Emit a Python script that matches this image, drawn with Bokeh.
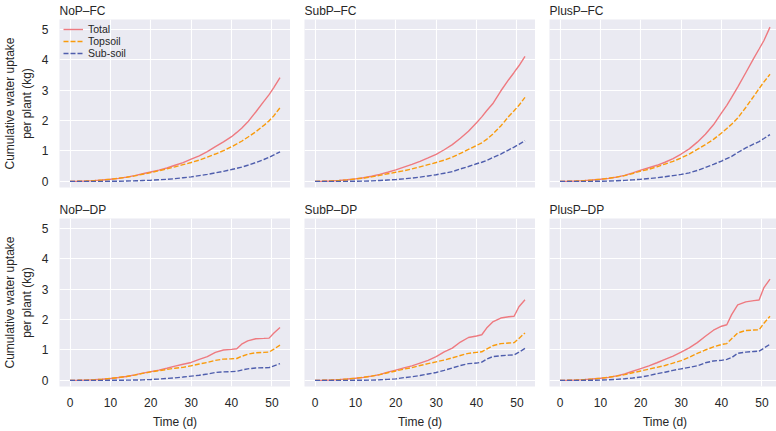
from bokeh.plotting import figure
from bokeh.layouts import gridplot
from bokeh.models import Range1d, FixedTicker, Legend, LegendItem
from bokeh.embed import file_html
from bokeh.resources import INLINE

# ---------------- data ----------------
days = [0, 2, 4, 6, 8, 10, 12, 14, 16, 18, 20, 22, 24, 26, 28, 30, 32, 34, 36, 38,
        40, 41.3, 42.5, 44, 46, 48, 49.3, 50.5, 52]

panel_names = ["NoP\u2013FC", "SubP\u2013FC", "PlusP\u2013FC",
               "NoP\u2013DP", "SubP\u2013DP", "PlusP\u2013DP"]

# NoP-FC
nop_fc_total = [0, 0.004, 0.012, 0.025, 0.045, 0.07, 0.10, 0.14, 0.19, 0.25, 0.31, 0.37, 0.44, 0.53, 0.62,
                0.73, 0.84, 0.98, 1.14, 1.30, 1.47, 1.61, 1.75, 1.95, 2.28, 2.63, 2.85, 3.09, 3.41]
nop_fc_top = [0, 0.004, 0.012, 0.025, 0.045, 0.07, 0.10, 0.135, 0.18, 0.235, 0.29, 0.35, 0.41, 0.48, 0.55,
              0.62, 0.70, 0.80, 0.90, 1.01, 1.14, 1.23, 1.32, 1.45, 1.63, 1.84, 1.99, 2.16, 2.42]
nop_fc_sub = [0, 0, 0, 0.001, 0.002, 0.004, 0.007, 0.012, 0.02, 0.03, 0.04, 0.055, 0.07, 0.09, 0.12,
              0.15, 0.19, 0.23, 0.28, 0.33, 0.39, 0.43, 0.47, 0.53, 0.62, 0.72, 0.79, 0.87, 0.97]

# SubP-FC
subp_fc_total = [0, 0.005, 0.015, 0.03, 0.055, 0.085, 0.12, 0.17, 0.23, 0.30, 0.38, 0.47, 0.56, 0.66, 0.77,
                 0.89, 1.04, 1.21, 1.42, 1.65, 1.93, 2.12, 2.32, 2.55, 2.97, 3.35, 3.58, 3.80, 4.11]
subp_fc_top = [0, 0.005, 0.015, 0.03, 0.05, 0.08, 0.11, 0.15, 0.20, 0.25, 0.30, 0.35, 0.41, 0.48, 0.55,
               0.62, 0.70, 0.80, 0.92, 1.05, 1.18, 1.27, 1.38, 1.55, 1.82, 2.14, 2.32, 2.50, 2.76]
subp_fc_sub = [0, 0, 0, 0.001, 0.003, 0.006, 0.01, 0.018, 0.03, 0.045, 0.06, 0.085, 0.11, 0.14, 0.18,
               0.22, 0.27, 0.32, 0.41, 0.49, 0.58, 0.63, 0.69, 0.78, 0.90, 1.04, 1.13, 1.22, 1.34]

# PlusP-FC
plusp_fc_total = [0, 0.004, 0.012, 0.025, 0.045, 0.07, 0.10, 0.14, 0.20, 0.28, 0.37, 0.45, 0.53, 0.63, 0.75,
                  0.90, 1.07, 1.29, 1.55, 1.86, 2.25, 2.50, 2.76, 3.10, 3.57, 4.05, 4.35, 4.63, 5.07]
plusp_fc_top = [0, 0.004, 0.012, 0.025, 0.045, 0.07, 0.10, 0.14, 0.19, 0.26, 0.34, 0.40, 0.48, 0.57, 0.66,
                0.77, 0.90, 1.05, 1.21, 1.38, 1.59, 1.74, 1.88, 2.08, 2.43, 2.80, 3.05, 3.27, 3.52]
plusp_fc_sub = [0, 0, 0, 0.001, 0.003, 0.006, 0.012, 0.02, 0.035, 0.05, 0.07, 0.095, 0.12, 0.155, 0.19,
                0.23, 0.28, 0.36, 0.46, 0.56, 0.67, 0.75, 0.82, 0.95, 1.10, 1.23, 1.31, 1.41, 1.54]

# NoP-DP
nop_dp_total = [0, 0.003, 0.01, 0.02, 0.04, 0.065, 0.095, 0.13, 0.18, 0.24, 0.29, 0.34, 0.40, 0.47, 0.53,
                0.59, 0.69, 0.78, 0.92, 1.00, 1.02, 1.04, 1.19, 1.30, 1.37, 1.38, 1.39, 1.56, 1.74]
nop_dp_top = [0, 0.003, 0.01, 0.02, 0.04, 0.065, 0.095, 0.13, 0.175, 0.23, 0.28, 0.32, 0.36, 0.40, 0.43,
              0.48, 0.54, 0.59, 0.66, 0.70, 0.71, 0.72, 0.79, 0.86, 0.91, 0.92, 0.93, 1.03, 1.16]
nop_dp_sub = [0, 0, 0, 0, 0.001, 0.003, 0.005, 0.008, 0.012, 0.018, 0.03, 0.045, 0.065, 0.085, 0.11,
              0.14, 0.17, 0.21, 0.26, 0.28, 0.29, 0.30, 0.34, 0.38, 0.41, 0.415, 0.42, 0.48, 0.55]

# SubP-DP
subp_dp_total = [0, 0.004, 0.012, 0.025, 0.045, 0.07, 0.10, 0.14, 0.19, 0.27, 0.34, 0.41, 0.48, 0.57, 0.66,
                 0.78, 0.94, 1.06, 1.26, 1.41, 1.46, 1.50, 1.72, 1.92, 2.05, 2.09, 2.11, 2.42, 2.65]
subp_dp_top = [0, 0.004, 0.012, 0.025, 0.045, 0.07, 0.10, 0.14, 0.19, 0.25, 0.31, 0.37, 0.42, 0.49, 0.55,
               0.61, 0.67, 0.74, 0.82, 0.89, 0.92, 0.94, 1.03, 1.14, 1.21, 1.23, 1.24, 1.38, 1.56]
subp_dp_sub = [0, 0, 0, 0, 0.001, 0.003, 0.006, 0.01, 0.02, 0.035, 0.05, 0.09, 0.12, 0.16, 0.21,
               0.26, 0.33, 0.41, 0.49, 0.55, 0.57, 0.60, 0.70, 0.78, 0.81, 0.83, 0.84, 0.93, 1.05]

# PlusP-DP
plusp_dp_total = [0, 0.004, 0.012, 0.025, 0.045, 0.07, 0.10, 0.15, 0.21, 0.30, 0.39, 0.48, 0.58, 0.69, 0.80,
                  0.93, 1.07, 1.24, 1.45, 1.65, 1.78, 1.83, 2.16, 2.48, 2.58, 2.62, 2.64, 3.05, 3.33]
plusp_dp_top = [0, 0.004, 0.012, 0.025, 0.045, 0.07, 0.10, 0.14, 0.19, 0.25, 0.31, 0.37, 0.43, 0.49, 0.57,
                0.65, 0.76, 0.89, 1.00, 1.10, 1.18, 1.21, 1.37, 1.56, 1.64, 1.655, 1.66, 1.88, 2.11]
plusp_dp_sub = [0, 0, 0.001, 0.003, 0.006, 0.01, 0.02, 0.035, 0.055, 0.08, 0.11, 0.16, 0.22, 0.27, 0.33,
                0.38, 0.43, 0.48, 0.58, 0.64, 0.66, 0.69, 0.75, 0.89, 0.93, 0.95, 0.96, 1.06, 1.19]

panel_data = [
    (nop_fc_total, nop_fc_top, nop_fc_sub),
    (subp_fc_total, subp_fc_top, subp_fc_sub),
    (plusp_fc_total, plusp_fc_top, plusp_fc_sub),
    (nop_dp_total, nop_dp_top, nop_dp_sub),
    (subp_dp_total, subp_dp_top, subp_dp_sub),
    (plusp_dp_total, plusp_dp_top, plusp_dp_sub),
]

series_labels = ["Total", "Topsoil", "Sub-soil"]
x_ticks = [0, 10, 20, 30, 40, 50]
y_ticks = [0, 1, 2, 3, 4, 5]

# ---------------- style ----------------
FONT = "Liberation Sans"
TEXT = "#262626"
BG = "#EAEAF2"
colors = ["#EE7A80", "#F99B0C", "#4F5EAD"]
dashes = ["solid", "5 2", "5 2"]

FW, FH = 231, 168

figs = []
for i, name in enumerate(panel_names):
    r, c = divmod(i, 3)
    p = figure(
        frame_width=FW, frame_height=FH,
        x_range=Range1d(-2.6, 54.6), y_range=Range1d(-0.2, 5.32),
        output_backend="svg", toolbar_location=None, title=name,
        min_border_left=(45 if c == 0 else 14), min_border_right=0,
        min_border_top=4, min_border_bottom=(12 if r == 0 else 4),
    )
    p.background_fill_color = BG
    p.border_fill_color = "white"
    p.outline_line_color = None
    p.title.text_font = FONT
    p.title.text_font_size = "12px"
    p.title.text_font_style = "normal"
    p.title.text_color = TEXT
    p.title.standoff = 3

    for g in (p.xgrid[0], p.ygrid[0]):
        g.grid_line_color = "white"
        g.grid_line_width = 1.1
    p.xaxis.ticker = FixedTicker(ticks=x_ticks)
    p.yaxis.ticker = FixedTicker(ticks=y_ticks)
    for ax in (p.xaxis[0], p.yaxis[0]):
        ax.axis_line_color = None
        ax.major_tick_line_color = None
        ax.minor_tick_line_color = None
        ax.major_label_text_font = FONT
        ax.major_label_text_font_size = "12px"
        ax.major_label_text_color = TEXT
        ax.axis_label_text_font = FONT
        ax.axis_label_text_font_size = "12px"
        ax.axis_label_text_font_style = "normal"
        ax.axis_label_text_color = TEXT
        ax.major_label_standoff = 5
    if r == 0:
        p.xaxis.visible = False
    else:
        p.xaxis.axis_label = "Time (d)"
        p.xaxis.axis_label_standoff = 5
    if c == 0:
        p.yaxis.axis_label = "Cumulative water uptake\nper plant (kg)"
        p.yaxis.axis_label_standoff = 5
    else:
        p.yaxis.visible = False

    renderers = []
    for ys, col, dash in zip(panel_data[i], colors, dashes):
        rr = p.line(days, ys, line_color=col, line_width=1.4, line_dash=dash)
        renderers.append(rr)

    if i == 0:
        leg = Legend(items=[LegendItem(label=lab, renderers=[rr]) for lab, rr in zip(series_labels, renderers)],
                     location="top_left")
        leg.background_fill_alpha = 0
        leg.border_line_color = None
        leg.label_text_font = FONT
        leg.label_text_font_size = "10.5px"
        leg.label_text_color = TEXT
        leg.glyph_width = 20
        leg.glyph_height = 10
        leg.label_height = 10
        leg.label_standoff = 5
        leg.spacing = 0
        leg.padding = 2
        leg.margin = 4
        p.add_layout(leg, "center")
    figs.append(p)

grid = gridplot([figs[0:3], figs[3:6]], toolbar_location=None)

open("out.html", "w").write(file_html(grid, INLINE))
